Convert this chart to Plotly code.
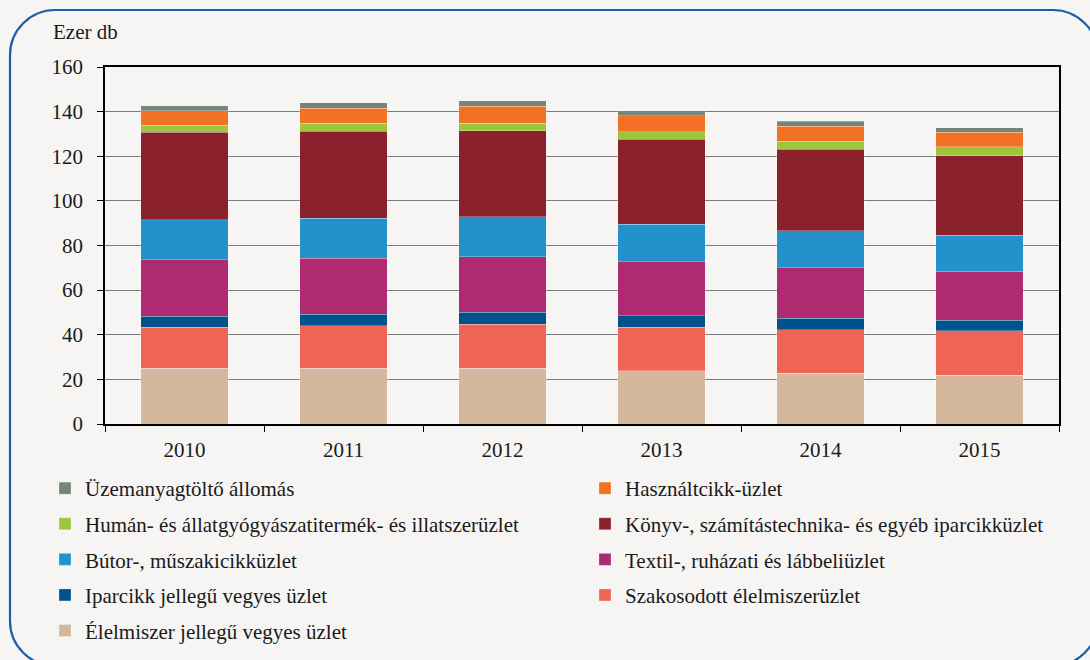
import plotly.graph_objects as go

years = ["2010", "2011", "2012", "2013", "2014", "2015"]

# Stack order: bottom -> top (values in thousand units)
elelmiszer_vegyes = [25.1, 25.1, 24.9, 23.9, 22.7, 21.9]
szakosodott_elelmiszer = [18.2, 18.9, 19.9, 19.5, 19.5, 19.9]
iparcikk_vegyes = [5.1, 5.1, 5.3, 5.1, 5.3, 4.8]
textil = [25.2, 25.2, 24.8, 24.2, 22.6, 21.9]
butor = [18.0, 17.9, 17.9, 16.9, 16.5, 16.1]
konyv = [39.1, 39.0, 38.7, 38.0, 36.5, 35.7]
human = [3.3, 3.6, 3.4, 3.4, 3.6, 3.9]
hasznaltcikk = [6.4, 6.8, 7.5, 7.1, 6.7, 6.5]
uzemanyag = [2.3, 2.4, 2.4, 2.3, 2.3, 2.0]

series = [
    ("Élelmiszer jellegű vegyes üzlet", elelmiszer_vegyes, "#d5b79e", "legend", 5),
    ("Szakosodott élelmiszerüzlet", szakosodott_elelmiszer, "#ef6555", "legend2", 4),
    ("Iparcikk jellegű vegyes üzlet", iparcikk_vegyes, "#00528b", "legend", 4),
    ("Textil-, ruházati és lábbeliüzlet", textil, "#ae2a71", "legend2", 3),
    ("Bútor-, műszakicikküzlet", butor, "#2391cb", "legend", 3),
    ("Könyv-, számítástechnika- és egyéb iparcikküzlet", konyv, "#8b212c", "legend2", 2),
    ("Humán- és állatgyógyászatitermék- és illatszerüzlet", human, "#9dc63c", "legend", 2),
    ("Használtcikk-üzlet", hasznaltcikk, "#f37124", "legend2", 1),
    ("Üzemanyagtöltő állomás", uzemanyag, "#748579", "legend", 1),
]

FONT = "'Liberation Serif', 'DejaVu Serif', 'Times New Roman', serif"
TXT = "#1a1a1a"
BG = "#f6f5f3"

fig = go.Figure()
for name, vals, col, leg, rank in series:
    fig.add_trace(go.Bar(
        x=years, y=vals, name=name, legend=leg, legendrank=rank,
        legendgroup=name,
        marker=dict(color=col, line=dict(color="rgba(255,255,255,0.45)", width=0.6)),
    ))

W, H = 1090, 660
ML, MR, MT, MB = 105, 31, 67, 236
PW, PH = W - ML - MR, H - MT - MB


def px(xp):
    return (xp - ML) / PW


def py(yp):
    return (H - MB - yp) / PH


# rounded frame (decoration), pixel -> paper coordinates
L, T, R, B, r = 10, 10, 1098, 666, 45
k = 0.45
pts = [
    ("M", [(L + r, T)]),
    ("L", [(R - r, T)]),
    ("C", [(R - r * k, T), (R, T + r * k), (R, T + r)]),
    ("L", [(R, B - r)]),
    ("C", [(R, B - r * k), (R - r * k, B), (R - r, B)]),
    ("L", [(L + r, B)]),
    ("C", [(L + r * k, B), (L, B - r * k), (L, B - r)]),
    ("L", [(L, T + r)]),
    ("C", [(L, T + r * k), (L + r * k, T), (L + r, T)]),
]
path = ""
for cmd, plist in pts:
    path += cmd + " ".join(f"{px(a):.5f},{py(b):.5f}" for a, b in plist)
path += "Z"
fig.add_shape(type="path", xref="paper", yref="paper", path=path,
              line=dict(color="#1d5fa6", width=2.2), layer="below")

fig.add_annotation(text="Ezer db", xref="paper", yref="paper",
                   x=px(51), y=py(32), xanchor="left", yanchor="middle",
                   showarrow=False, font=dict(family=FONT, size=21, color=TXT))

legend_common = dict(
    orientation="v", xanchor="left", yanchor="top",
    font=dict(family=FONT, size=21, color=TXT),
    bgcolor="rgba(0,0,0,0)", itemwidth=30, tracegroupgap=5.3,
    traceorder="grouped", itemclick=False, itemdoubleclick=False,
)

fig.update_layout(
    width=W, height=H,
    margin=dict(l=ML, r=MR, t=MT, b=MB, autoexpand=False),
    paper_bgcolor=BG, plot_bgcolor=BG,
    barmode="stack", bargap=0.447,
    font=dict(family=FONT, size=21, color=TXT),
    legend=dict(x=px(45), y=py(468), **legend_common),
    legend2=dict(x=px(585), y=py(468), **legend_common),
    showlegend=True,
)
fig.update_xaxes(
    showline=True, linecolor="black", linewidth=1.6, mirror=True,
    ticks="outside", tickson="boundaries", ticklen=6, tickcolor="black", tickwidth=1.4,
    tickfont=dict(family=FONT, size=21, color=TXT), ticklabelstandoff=6,
    showgrid=False,
)
fig.update_yaxes(
    range=[0, 160], dtick=20, tick0=0,
    showline=True, linecolor="black", linewidth=1.6, mirror=True,
    ticks="outside", ticklen=6, tickcolor="black", tickwidth=1.4,
    tickfont=dict(family=FONT, size=21, color=TXT), ticklabelstandoff=10,
    showgrid=True, gridcolor="#7a7a7a", gridwidth=1.4, zeroline=False,
)

fig.write_html(
    "out.html",
    config={"displayModeBar": False},
    post_script=f"document.body.style.margin='0';document.body.style.background='{BG}';",
)
